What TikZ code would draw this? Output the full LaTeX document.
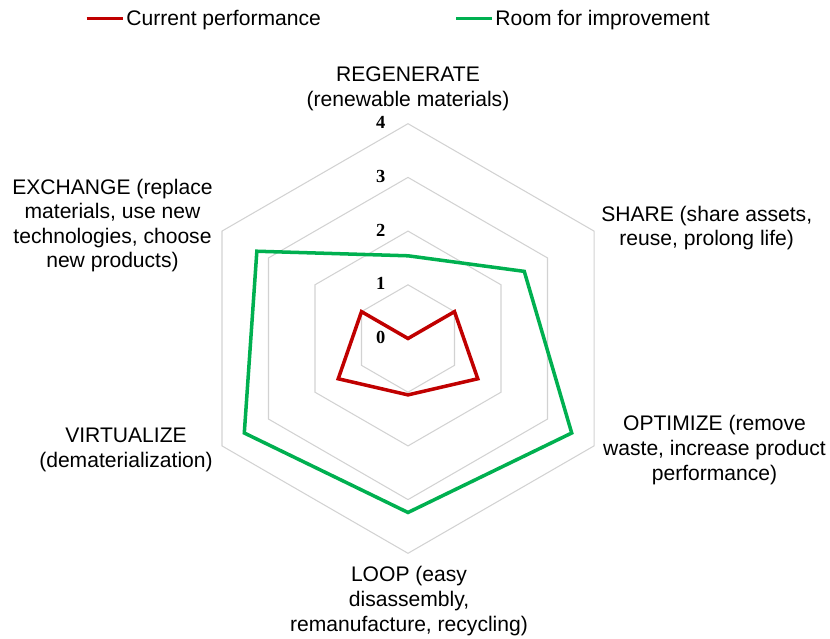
\documentclass[tikz,border=0pt]{standalone}
\usepackage{fontspec}
\setmainfont{Liberation Sans}
\newfontfamily\tickfont{Liberation Serif}
\usepackage{tikz}
\definecolor{perfred}{RGB}{192,0,0}
\definecolor{roomgreen}{RGB}{0,176,80}
\definecolor{gridgray}{RGB}{210,210,210}

\begin{document}
\begin{tikzpicture}[x=0.02cm,y=0.02cm,
    font=\fontsize{12}{14}\selectfont,
    gridline/.style={gridgray,line width=0.6pt},
    current/.style={perfred,line width=2pt},
    room/.style={roomgreen,line width=2pt},
    axislabel/.style={align=center,inner sep=0pt},
    legtext/.style={anchor=base west,inner sep=0pt},
    ticklabel/.style={font=\tickfont\bfseries\fontsize{10.5}{11}\selectfont,inner sep=0pt}]
    \useasboundingbox (-408,-299.5) rectangle (422,338.5);

    % legend
    \coordinate (curstart) at (-321.3,319.5);
    \coordinate (curend) at (-284.7,319.5);
    \node[legtext] (curtext) at (-282,312.5) {Current performance};
    \draw[current,line width=1.7pt] (curstart) -- (curend);
    \coordinate (roomstart) at (48,319.5);
    \coordinate (roomend) at (83.7,319.5);
    \node[legtext] (roomtext) at (87,312.5) {Room for improvement};
    \draw[room,line width=1.7pt] (roomstart) -- (roomend);

    \begin{scope}[scale=53.7]
    \foreach \r in {1,...,4}
        \draw[gridline] (90:\r) -- (30:\r) -- (-30:\r) -- (-90:\r) -- (-150:\r) -- (150:\r) -- cycle;
    \foreach \r in {0,...,4}
        \node[ticklabel] (tick\r) at (-0.51,\r+0.02) {\r};

    \draw[current] (90:0) -- (30:1) -- (-30:1.5) -- (-90:1.05) -- (-150:1.5) -- (150:1) -- cycle;
    \draw[room] (90:1.54) -- (30:2.5) -- (-30:3.52) -- (-90:3.24) -- (-150:3.52) -- (150:3.25) -- cycle;
    \end{scope}

    % axis labels
    \node[axislabel] (regenerate) at (0,249.5) {REGENERATE\\(renewable materials)};
    \node[axislabel] (share) at (298.7,110.5) {SHARE (share assets,\\reuse, prolong life)};
    \node[axislabel] (optimize) at (306.5,-111.5) {OPTIMIZE (remove\\waste, increase product\\performance)};
    \node[axislabel] (loop) at (1,-262.5) {LOOP (easy\\disassembly,\\remanufacture, recycling)};
    \node[axislabel] (virtualize) at (-282,-111.5) {VIRTUALIZE\\(dematerialization)};
    \node[axislabel] (exchange) at (-295.5,113) {EXCHANGE (replace\\materials, use new\\technologies, choose\\new products)};
\end{tikzpicture}
\end{document}
